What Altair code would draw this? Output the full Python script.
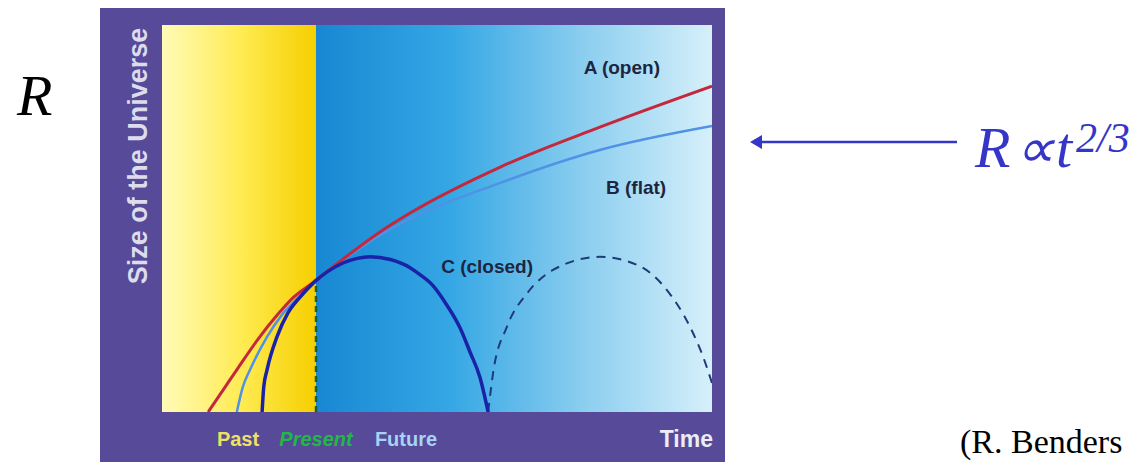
import altair as alt
import pandas as pd

# ---- data (time t: 0..100 across plot, size s: 0..100 up the plot) ----
open_t = [8.4, 11.5, 13.6, 17.5, 21.1, 23.8, 27.3, 32.9, 39.1, 45.1, 61.5, 79.6, 100.0]
open_s = [0.0, 6.5, 10.9, 18.9, 25.3, 29.5, 33.3, 39.5, 46.0, 51.4, 63.3, 73.6, 84.2]

flat_t = [13.6, 14.7, 16.0, 19.1, 21.8, 24.5, 27.3, 32.9, 39.1, 43.3, 61.5, 79.6, 100.0]
flat_s = [0.0, 6.5, 10.9, 19.4, 25.1, 29.2, 33.1, 39.3, 45.2, 48.6, 59.2, 67.7, 73.9]

closed_t = [18.2, 18.5, 19.1, 20.9, 22.9, 25.1, 27.5, 32.9, 35.5, 37.8, 41.5, 45.1, 46.9, 49.3,
            51.8, 54.2, 56.0, 57.8, 59.3]
closed_s = [0.0, 6.5, 10.9, 19.4, 25.6, 29.7, 33.3, 38.5, 39.7, 40.1, 39.4, 37.3, 35.5, 32.6,
            27.6, 21.7, 15.5, 9.0, 0.0]

next_t = [59.3, 60.2, 62.7, 66.4, 71.1, 79.6, 86.4, 91.8, 96.0, 98.4, 100.0]
next_s = [0.0, 10.1, 22.0, 30.7, 36.7, 40.1, 38.0, 31.5, 22.0, 14.2, 7.5]

present_t = 28.0
present_s = 33.6

label_text = ["A (open)", "B (flat)", "C (closed)"]
label_t = [83.6, 86.2, 59.1]
label_s = [88.9, 57.9, 37.5]

W, H = 550, 387
xs = alt.Scale(domain=[0, 100], nice=False, zero=False)
ys = alt.Scale(domain=[0, 100], nice=False, zero=False)

one = pd.DataFrame({"k": [0]})

frame = alt.Chart(one).mark_rect(fill="#564a99", stroke=None).encode(
    x=alt.value(-62), x2=alt.value(563), y=alt.value(-17), y2=alt.value(460)
)

periods = pd.DataFrame({"start": [0.0, present_t], "end": [present_t, 100.0], "lo": [0, 0], "hi": [100, 100]})

yellow_grad = alt.LinearGradient(
    gradient="linear", x1=0, x2=1, y1=0, y2=0,
    stops=[alt.GradientStop(color="#fffbb8", offset=0),
           alt.GradientStop(color="#ffec55", offset=0.5),
           alt.GradientStop(color="#f6cf00", offset=1)])
blue_grad = alt.LinearGradient(
    gradient="linear", x1=0, x2=1, y1=0, y2=0,
    stops=[alt.GradientStop(color="#1887d3", offset=0),
           alt.GradientStop(color="#35a7e4", offset=0.34),
           alt.GradientStop(color="#8acdef", offset=0.67),
           alt.GradientStop(color="#d6f0fa", offset=1)])

past_rect = alt.Chart(periods.iloc[[0]]).mark_rect(fill=yellow_grad).encode(
    x=alt.X("start:Q", scale=xs, axis=None), x2="end:Q",
    y=alt.Y("lo:Q", scale=ys, axis=None), y2="hi:Q")
fut_rect = alt.Chart(periods.iloc[[1]]).mark_rect(fill=blue_grad).encode(
    x=alt.X("start:Q", scale=xs, axis=None), x2="end:Q",
    y=alt.Y("lo:Q", scale=ys, axis=None), y2="hi:Q")


def curve(t, s, color, width, dash=None):
    df = pd.DataFrame({"t": t, "s": s})
    kw = dict(color=color, strokeWidth=width, interpolate="monotone", clip=True)
    if dash:
        kw["strokeDash"] = dash
    return alt.Chart(df).mark_line(**kw).encode(
        x=alt.X("t:Q", scale=xs, axis=None), y=alt.Y("s:Q", scale=ys, axis=None))


c_next = curve(next_t, next_s, "#1f3a78", 2, [9, 7])
c_flat = curve(flat_t, flat_s, "#4f92e6", 2.5)
c_open = curve(open_t, open_s, "#c4283c", 3)
c_closed = curve(closed_t, closed_s, "#1a22a8", 3.5)

present_df = pd.DataFrame({"t": [present_t], "s0": [0.0], "s1": [present_s]})
present_rule = alt.Chart(present_df).mark_rule(color="#1d5e2c", strokeWidth=2.5, strokeDash=[6, 4]).encode(
    x=alt.X("t:Q", scale=xs, axis=None), y=alt.Y("s0:Q", scale=ys, axis=None), y2="s1:Q")

labels_df = pd.DataFrame({"t": label_t, "s": label_s, "txt": label_text})
labels = alt.Chart(labels_df).mark_text(font="Liberation Sans", fontWeight="bold", fontSize=19,
                                        color="#1c2640", baseline="middle", align="center").encode(
    x=alt.X("t:Q", scale=xs, axis=None), y=alt.Y("s:Q", scale=ys, axis=None), text="txt:N")


def ann(text, x, y, **kw):
    return alt.Chart(one).mark_text(text=text, **kw).encode(x=alt.value(x), y=alt.value(y))


sans = dict(font="Liberation Sans", fontWeight="bold")
ytitle = ann("Size of the Universe", -23, 131, angle=270, fontSize=27, color="#dcdcec",
             align="center", baseline="middle", **sans)
past = ann("Past", 76, 415, fontSize=20, color="#efe064", align="center", baseline="middle", **sans)
present = ann("Present", 154, 415, fontSize=20, color="#22b845", align="center", baseline="middle",
              fontStyle="italic", **sans)
future = ann("Future", 244, 415, fontSize=20, color="#a9d3f2", align="center", baseline="middle", **sans)
timel = ann("Time", 551, 415, fontSize=23, color="#ececf4", align="right", baseline="middle", **sans)

serif = dict(font="Liberation Serif", fontStyle="italic")
r_left = ann("R", -145, 90, fontSize=58, color="#000000", align="left", baseline="alphabetic", **serif)

blue = "#3535c8"
arrow_line = alt.Chart(one).mark_rule(color=blue, strokeWidth=2.5).encode(
    x=alt.value(600), x2=alt.value(795), y=alt.value(117))
arrow_head = alt.Chart(one).mark_point(shape="triangle-left", filled=True, color=blue, size=190, opacity=1).encode(
    x=alt.value(594), y=alt.value(117))

r_right = ann("R", 813, 142, fontSize=58, color=blue, align="left", baseline="alphabetic", **serif)
prop = ann("\u221d", 853, 142, fontSize=55, color=blue, align="left", baseline="alphabetic", **serif)
t_right = ann("t", 894, 142, fontSize=58, color=blue, align="left", baseline="alphabetic", **serif)
sup = ann("2/3", 914, 127, fontSize=42, color=blue, align="left", baseline="alphabetic", **serif)

credit = ann("(R. Benders", 798, 428, fontSize=34, color="#000000", align="left", baseline="alphabetic",
             font="Liberation Serif")

chart = alt.layer(
    frame, past_rect, fut_rect, present_rule, c_next, c_flat, c_open, c_closed, labels,
    ytitle, past, present, future, timel, r_left, arrow_line, arrow_head, r_right, prop, t_right, sup, credit
).properties(
    width=W, height=H,
    padding={"left": 154, "top": 17, "right": 418, "bottom": 50},
    autosize=alt.AutoSizeParams(type="none"),
    background="white",
).configure_view(stroke=None)

chart.save("out.html", embed_options={"renderer": "svg", "actions": False})
